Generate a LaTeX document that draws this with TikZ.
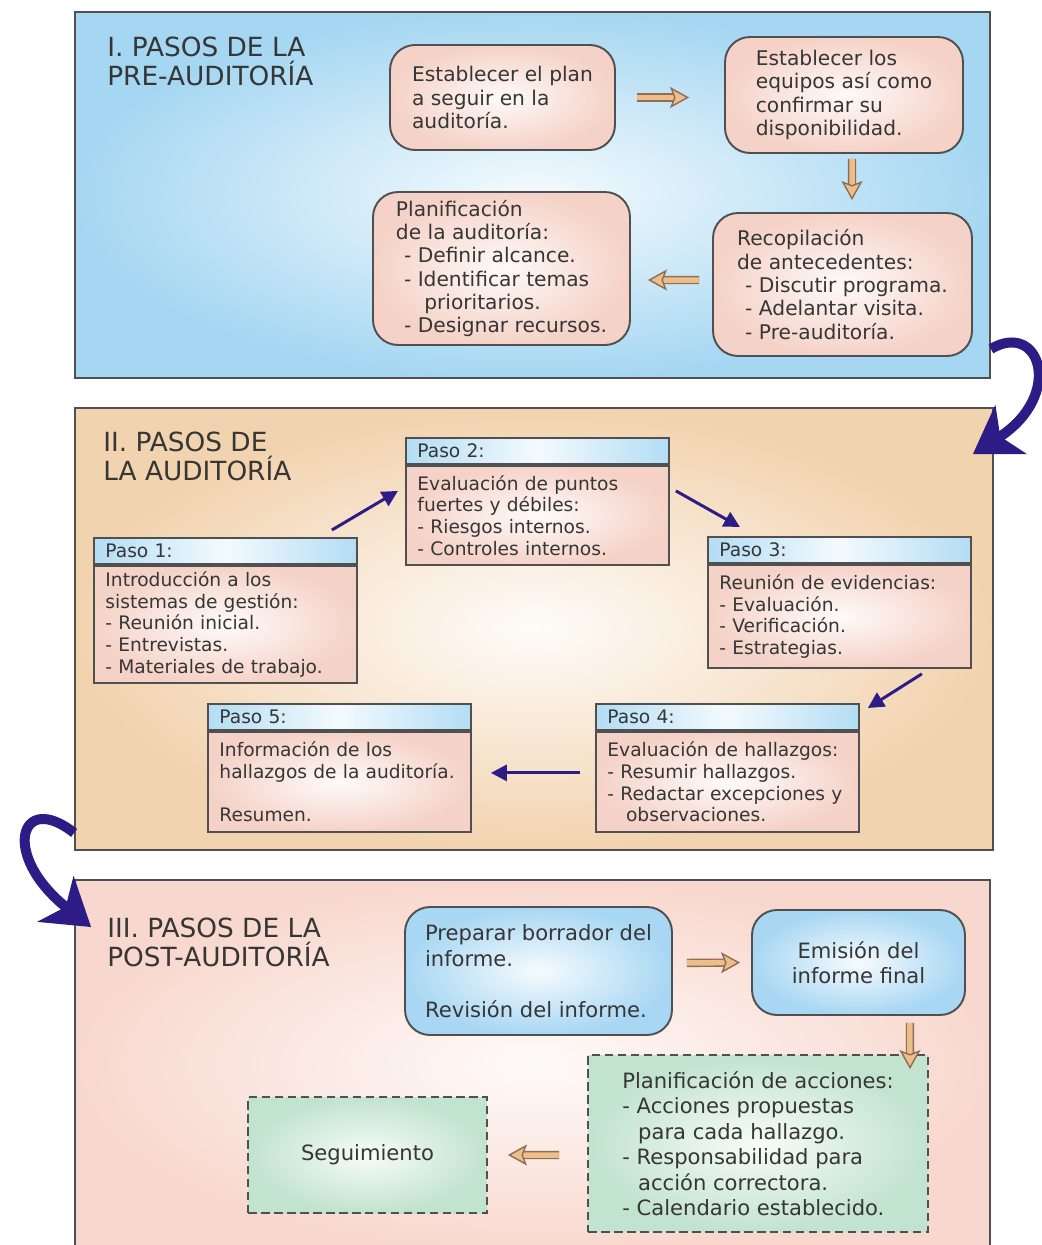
\documentclass[tikz,border=0pt]{standalone}
\usepackage{fontspec}
\setmainfont{DejaVu Sans}
\usepackage{xcolor}
\definecolor{textgray}{HTML}{363636}
\definecolor{framegray}{HTML}{505050}
\definecolor{preblue}{HTML}{A6D7F2}
\definecolor{audpeach}{HTML}{F2D3AF}
\definecolor{postpink}{HTML}{F8D8CE}
\definecolor{boxpink}{HTML}{F5D2C7}
\definecolor{hdrblue}{HTML}{B3DDF4}
\definecolor{boxblue}{HTML}{A8D7F3}
\definecolor{boxgreen}{HTML}{C2E3CE}
\definecolor{navy}{HTML}{2D1B86}
\definecolor{arrline}{HTML}{8E6E54}
\definecolor{arrfill}{HTML}{EDBE8A}
\usepackage{tikz}
\usetikzlibrary{arrows.meta, positioning, calc}

\begin{document}
\begin{tikzpicture}[x=0.02cm, y=-0.02cm]
    \tikzstyle{panel}=[draw=framegray, line width=1.1pt, inner sep=0pt]
    \tikzstyle{title}=[anchor=north west, inner sep=0pt, align=left, text=textgray,
                       font=\fontsize{15}{16}\selectfont]
    \tikzstyle{roundbox}=[draw=framegray, line width=1.1pt, rounded corners=0.5cm, align=left,
                          text=textgray, font=\fontsize{11.5}{13.3}\selectfont,
                          inner color=boxpink!12, outer color=boxpink]
    \tikzstyle{stephead}=[draw=framegray, line width=1.1pt, anchor=north west, minimum width=5.26cm,
                          text width=4.8cm, inner xsep=0.23cm, inner ysep=0pt, minimum height=0.52cm,
                          align=left, text=textgray, font=\fontsize{10.6}{12.3}\selectfont,
                          left color=hdrblue, right color=hdrblue, middle color=hdrblue!15]
    \tikzstyle{stepbody}=[draw=framegray, line width=1.1pt, minimum width=5.26cm,
                          text width=4.8cm, inner xsep=0.23cm, inner ysep=2pt,
                          align=left, text=textgray, font=\fontsize{10.6}{12.3}\selectfont,
                          inner color=boxpink!10, outer color=boxpink]
    \tikzstyle{bluebox}=[draw=framegray, line width=1.1pt, rounded corners=0.5cm, align=left,
                         text=textgray, font=\fontsize{12}{14.5}\selectfont,
                         inner color=boxblue!10, outer color=boxblue]
    \tikzstyle{greenbox}=[draw=framegray, line width=1.1pt, dash pattern=on 0.17cm off 0.09cm,
                          align=left, text=textgray, font=\fontsize{12}{14.5}\selectfont,
                          inner color=boxgreen!12, outer color=boxgreen]
    \tikzstyle{hollow}=[draw=arrline, line width=0.8pt, double=arrfill, double distance=0.11cm,
                        -{Stealth[open, length=0.38cm, width=0.42cm, inset=0.08cm, fill=arrfill]}]
    \tikzstyle{arr}=[draw=navy, line width=1.7pt, -{Triangle[length=0.32cm, width=0.32cm]}]
    \tikzstyle{bigarr}=[draw=navy, line width=0.2cm, -{Stealth[length=0.9cm, width=1.15cm, inset=0.25cm]}]

    \useasboundingbox (0,0) rectangle (1042,1245);

    % panels
    \node[panel, minimum width=18.3cm, minimum height=7.32cm, inner color=preblue!12, outer color=preblue] (pre) at (532.5,195) {};
    \node[panel, minimum width=18.36cm, minimum height=8.84cm, inner color=audpeach!8, outer color=audpeach] (aud) at (534,629) {};
    \node[panel, minimum width=18.3cm, minimum height=7.4cm, inner color=postpink!12, outer color=postpink] (post) at (532.5,1065) {};

    \node[title] (pretitle) at (107,37) {I. PASOS DE LA\\PRE-AUDITORÍA};
    \node[title] (audtitle) at (103,432) {II. PASOS DE\\LA AUDITORÍA};
    \node[title] (posttitle) at (107,918) {III. PASOS DE LA\\POST-AUDITORÍA};

    % I. pre-auditoria
    \node[roundbox, minimum width=4.5cm, minimum height=2.1cm] (plan) at (502.5,97.5)
        {Establecer el plan\\a seguir en la\\auditoría.};
    \node[roundbox, minimum width=4.76cm, minimum height=2.32cm] (equipos) at (844,95)
        {Establecer los\\equipos así como\\confirmar su\\disponibilidad.};
    \node[roundbox, minimum width=5.18cm, minimum height=2.86cm] (recop) at (842.5,284.5)
        {Recopilación\\de antecedentes:\\\hspace*{0.4em}- Discutir programa.\\\hspace*{0.4em}- Adelantar visita.\\\hspace*{0.4em}- Pre-auditoría.};
    \node[roundbox, minimum width=5.14cm, minimum height=3.06cm] (planif) at (501.5,268.5)
        {Planificación\\de la auditoría:\\\hspace*{0.4em}- Definir alcance.\\\hspace*{0.4em}- Identificar temas\\\hspace*{1.4em}prioritarios.\\\hspace*{0.4em}- Designar recursos.};

    \draw[hollow, shorten <=0.42cm, shorten >=0.7cm] (plan.east) -- (plan.east -| equipos.west);
    \draw[hollow, shorten <=0.1cm, shorten >=0.24cm] ([xshift=0.16cm]equipos.south) -- ([xshift=0.19cm]recop.north);
    \draw[hollow, shorten <=0.26cm, shorten >=0.34cm] ([yshift=0.09cm]recop.west) -- ([yshift=-0.23cm]planif.east);

    % II. auditoria
    \node[stephead] (p1h) at (93,537) {Paso 1:};
    \node[stepbody, below=0pt of p1h, minimum height=2.34cm] (p1b)
        {Introducción a los\\sistemas de gestión:\\- Reunión inicial.\\- Entrevistas.\\- Materiales de trabajo.};
    \node[stephead] (p2h) at (405,437) {Paso 2:};
    \node[stepbody, below=0pt of p2h, minimum height=1.98cm] (p2b)
        {Evaluación de puntos\\fuertes y débiles:\\- Riesgos internos.\\- Controles internos.};
    \node[stephead] (p3h) at (707,536) {Paso 3:};
    \node[stepbody, below=0pt of p3h, minimum height=2.06cm] (p3b)
        {Reunión de evidencias:\\- Evaluación.\\- Verificación.\\- Estrategias.};
    \node[stephead] (p4h) at (595,703) {Paso 4:};
    \node[stepbody, below=0pt of p4h, minimum height=2cm] (p4b)
        {Evaluación de hallazgos:\\- Resumir hallazgos.\\- Redactar excepciones y\\\hspace*{1em}observaciones.};
    \node[stephead] (p5h) at (207,703) {Paso 5:};
    \node[stepbody, below=0pt of p5h, minimum height=2cm] (p5b)
        {Información de los\\hallazgos de la auditoría.\\[12.3pt]Resumen.};

    \draw[arr] ([xshift=-0.52cm, yshift=0.14cm]p1h.north east) -- ([xshift=-0.14cm, yshift=0.49cm]p2b.west);
    \draw[arr] ([xshift=0.12cm, yshift=0.49cm]p2b.east) -- ([xshift=0.66cm, yshift=0.18cm]p3h.north west);
    \draw[arr] ([xshift=-1cm, yshift=-0.1cm]p3b.south east) -- ([xshift=0.16cm, yshift=-0.1cm]p4h.north east);
    \draw[arr] ([xshift=-0.3cm, yshift=0.18cm]p4b.west) -- ([xshift=0.38cm, yshift=0.18cm]p5b.east);

    % III. post-auditoria
    \node[bluebox, minimum width=5.34cm, minimum height=2.56cm] (borrador) at (538.5,971)
        {Preparar borrador del\\informe.\\[14.5pt]Revisión del informe.};
    \node[bluebox, align=center, minimum width=4.26cm, minimum height=2.1cm] (emision) at (858.5,962.5)
        {Emisión del\\informe final};
    \node[greenbox, minimum width=6.8cm, minimum height=3.54cm] (acciones) at (758,1143.5)
        {Planificación de acciones:\\- Acciones propuestas\\\hspace*{0.75em}para cada hallazgo.\\- Responsabilidad para\\\hspace*{0.75em}acción correctora.\\- Calendario establecido.};
    \node[greenbox, align=center, minimum width=4.78cm, minimum height=2.32cm] (seguim) at (367.5,1155)
        {Seguimiento};

    \draw[hollow, shorten <=0.28cm, shorten >=0.22cm] ([yshift=0.16cm]borrador.east) -- (emision.west);
    \draw[hollow, shorten <=0.14cm, shorten >=-0.3cm] ([xshift=1.03cm]emision.south) -- ([xshift=3.04cm]acciones.north);
    \draw[hollow, shorten <=0.56cm, shorten >=0.4cm] ([yshift=-0.23cm]acciones.west) -- (seguim.east);

    % links between panels
    \draw[bigarr] ([yshift=0.6cm]pre.south east) .. controls (1040,320) and (1065,395) .. ([xshift=-0.42cm, yshift=-0.94cm]aud.north east);
    \draw[bigarr] ([yshift=0.36cm]aud.south west) .. controls (20,790) and (0,855) .. ([xshift=0.34cm, yshift=-0.96cm]post.north west);
\end{tikzpicture}
\end{document}
